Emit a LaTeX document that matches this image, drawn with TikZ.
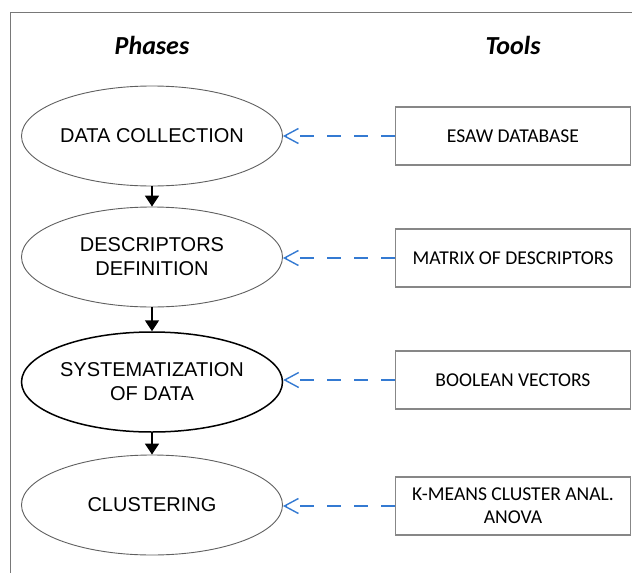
\documentclass[tikz,border=0pt]{standalone}
\usepackage{fontspec}
\setmainfont{Liberation Sans}
\newfontfamily\calfont{Carlito}
\usetikzlibrary{arrows.meta,shapes.geometric}
\definecolor{framegray}{RGB}{120,120,120}
\definecolor{ellgray}{RGB}{95,95,95}
\definecolor{boxgray}{RGB}{135,135,135}
\definecolor{linkblue}{RGB}{52,122,210}

\begin{document}
\begin{tikzpicture}[x=1pt,y=-1pt,
   phase/.style={draw=ellgray,line width=0.9pt,ellipse,minimum width=261pt,minimum height=100pt,
      inner sep=0pt,align=center,font=\fontsize{20}{24}\selectfont},
   tool/.style={draw=boxgray,line width=1.3pt,rectangle,minimum width=235pt,minimum height=58pt,
      inner sep=0pt,align=center,font=\calfont\fontsize{19.6}{23}\selectfont},
   head/.style={font=\calfont\bfseries\itshape\fontsize{26}{30}\selectfont},
   flow/.style={draw=black,line width=1.8pt,-{Triangle[length=11pt,width=14pt]}},
   link/.style={draw=linkblue,line width=1.6pt,dash pattern=on 14pt off 13pt,
      -{Straight Barb[length=14pt,width=15pt,line width=1.4pt]}}]
\useasboundingbox (0,0) rectangle (632,573);
% frame
\draw[framegray,line width=1pt] (632,12) -- (10,12) -- (10,573);
% headings
\node[head] (phases) at (152,45) {Phases};
\node[head] (tools) at (513,45) {Tools};
% phases
\node[phase] (collect) at (152,136) {DATA COLLECTION};
\node[phase] (descr) at (152,257) {DESCRIPTORS\\DEFINITION};
\node[phase,draw=black,line width=1.5pt] (system) at (152,382) {SYSTEMATIZATION\\OF DATA};
\node[phase] (cluster) at (152,505) {CLUSTERING};
% tools
\node[tool] (esaw) at (513,136) {ESAW DATABASE};
\node[tool] (matrix) at (513,258) {MATRIX OF DESCRIPTORS};
\node[tool] (bool) at (513,380) {BOOLEAN VECTORS};
\node[tool] (kmeans) at (513,506) {K-MEANS CLUSTER ANAL.\\ANOVA};
% flow
\draw[flow] (collect) -- (descr);
\draw[flow] (descr) -- (system);
\draw[flow] (system) -- (cluster);
% links
\draw[link] (esaw.west) -- (collect.east);
\draw[link] (matrix.west) -- (collect.east |- matrix.west);
\draw[link] (bool.west) -- (system.east |- bool.west);
\draw[link] (kmeans.west) -- (cluster.east |- kmeans.west);
\end{tikzpicture}
\end{document}
